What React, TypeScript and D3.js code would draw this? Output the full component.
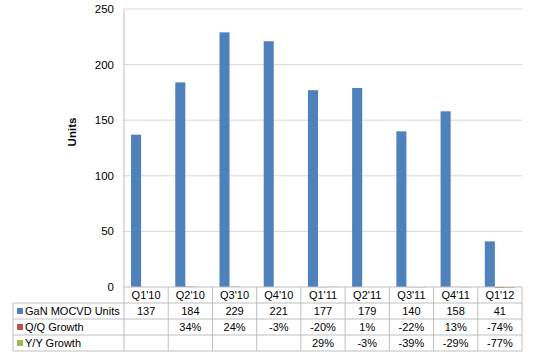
import React from "react";
import * as d3 from "d3";

const categories = ["Q1'10", "Q2'10", "Q3'10", "Q4'10", "Q1'11", "Q2'11", "Q3'11", "Q4'11", "Q1'12"];
const units = [137, 184, 229, 221, 177, 179, 140, 158, 41];
const qqGrowth: (number | null)[] = [null, 0.34, 0.24, -0.03, -0.2, 0.01, -0.22, 0.13, -0.74];
const yyGrowth: (number | null)[] = [null, null, null, null, 0.29, -0.03, -0.39, -0.29, -0.77];
const yTicks = [0, 50, 100, 150, 200, 250];
const seriesNames = ["GaN MOCVD Units", "Q/Q Growth", "Y/Y Growth"];
const colors = ["#4F81BD", "#C0504D", "#9BBB59"];

const W = 533, H = 358;
const plotL = 124, plotR = 522, plotT = 9, plotB = 287;
const rowH = 16;
const tableL = 13;

export default function App() {
  const x = d3.scaleBand<string>().domain(categories).range([plotL, plotR]).paddingInner(0).paddingOuter(0);
  const y = d3.scaleLinear().domain([0, 250]).range([plotB, plotT]);
  const bw = x.bandwidth();
  const barW = bw / 4.4;
  const off = barW * 0.7;
  const series = [units, qqGrowth, yyGrowth];
  const fmtPct = (v: number | null) => (v == null ? "" : `${Math.round(v * 100)}%`);
  const rows = [
    units.map((v) => String(v)),
    qqGrowth.map(fmtPct),
    yyGrowth.map(fmtPct),
  ];
  const font = "'Liberation Sans', Arial, sans-serif";
  const grid = "#D9D9D9";
  const border = "#BFBFBF";
  const tableB = plotB + rowH * 4;
  const fs = 11;

  return (
    <svg width={W} height={H} style={{ position: "absolute", left: 0, top: 0, background: "#fff" }} fontFamily={font}>
      {yTicks.filter((t) => t > 0).map((t) => (
        <line key={t} x1={plotL} x2={plotR} y1={y(t)} y2={y(t)} stroke={grid} strokeWidth={1} />
      ))}
      {yTicks.map((t) => (
        <text key={"l" + t} x={114} y={y(t)} dy="0.35em" textAnchor="end" fontSize={fs + 0.5} fill="#000">
          {t}
        </text>
      ))}
      <text transform={`translate(76,132) rotate(-90)`} textAnchor="middle" fontSize={fs + 0.5} fontWeight="bold" fill="#000">
        Units
      </text>
      <line x1={plotL} x2={plotL} y1={plotT} y2={tableB} stroke={border} />
      {series.map((s, si) =>
        s.map((v, i) => {
          if (v == null) return null;
          const y0 = y(0);
          const yv = y(v);
          return (
            <rect
              key={si + "-" + i}
              x={(x(categories[i]) as number) + off + si * barW}
              y={Math.min(y0, yv)}
              width={barW}
              height={Math.abs(y0 - yv)}
              fill={colors[si]}
            />
          );
        })
      )}
      {/* table */}
      <line x1={plotL} x2={plotR} y1={plotB} y2={plotB} stroke={border} />
      {[1, 2, 3, 4].map((r) => (
        <line key={"h" + r} x1={tableL} x2={plotR} y1={plotB + r * rowH} y2={plotB + r * rowH} stroke={border} />
      ))}
      <line x1={tableL} x2={tableL} y1={plotB + rowH} y2={tableB} stroke={border} />
      {categories.map((c, i) => (
        <line key={"v" + i} x1={(x(c) as number) + bw} x2={(x(c) as number) + bw} y1={plotB} y2={tableB} stroke={border} />
      ))}
      {categories.map((c) => (
        <text key={"c" + c} x={(x(c) as number) + bw / 2} y={plotB + rowH / 2} dy="0.35em" textAnchor="middle" fontSize={fs} fill="#000">
          {c}
        </text>
      ))}
      {rows.map((row, r) => (
        <g key={"r" + r}>
          <rect x={17} y={plotB + (r + 1) * rowH + rowH / 2 - 3} width={6} height={6} fill={colors[r]} />
          <text x={25} y={plotB + (r + 1.5) * rowH} dy="0.35em" fontSize={fs} fill="#000">
            {seriesNames[r]}
          </text>
          {row.map((t, i) => (
            <text
              key={i}
              x={(x(categories[i]) as number) + bw / 2}
              y={plotB + (r + 1.5) * rowH}
              dy="0.35em"
              textAnchor="middle"
              fontSize={fs}
              fill="#000"
            >
              {t}
            </text>
          ))}
        </g>
      ))}
    </svg>
  );
}
